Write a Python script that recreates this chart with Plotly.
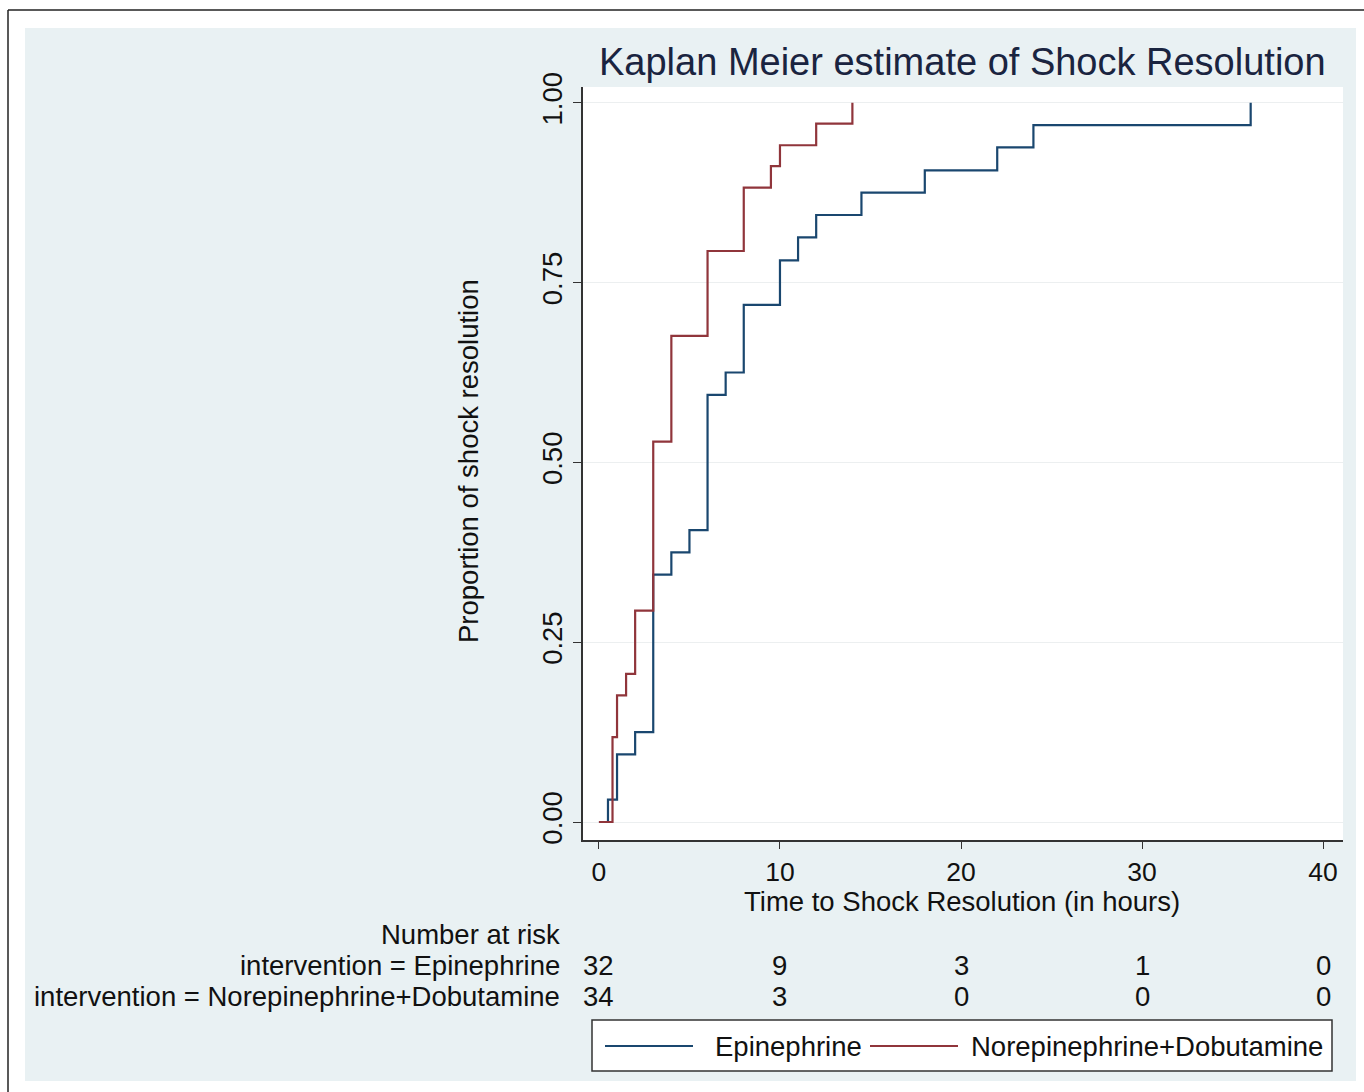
import plotly.graph_objects as go

# ---- data ----
epi_time = [0, 0.5, 1, 2, 3, 4, 5, 6, 7, 8, 10, 11, 12, 14.5, 18, 22, 24, 36]
epi_prop = [0, 0.031, 0.094, 0.125, 0.344, 0.375, 0.406, 0.594, 0.625, 0.719,
            0.781, 0.813, 0.844, 0.875, 0.906, 0.938, 0.969, 1.0]

ne_time = [0, 0.75, 1, 1.5, 2, 3, 4, 6, 8, 9.5, 10, 12, 14]
ne_prop = [0, 0.118, 0.176, 0.206, 0.294, 0.529, 0.676, 0.794, 0.882, 0.912,
           0.941, 0.971, 1.0]

risk_times = [0, 10, 20, 30, 40]
risk_epi = [32, 9, 3, 1, 0]
risk_ne = [34, 3, 0, 0, 0]

x_ticks = [0, 10, 20, 30, 40]
y_ticks = [0, 0.25, 0.5, 0.75, 1.0]

series_names = ["Epinephrine", "Norepinephrine+Dobutamine"]
row_labels = ["intervention = Epinephrine", "intervention = Norepinephrine+Dobutamine"]

# ---- style ----
W, H = 1364, 1092
PL, PR, PT, PB = 583, 1343, 87, 840   # plot area in page pixels
BLUE = "#1a476f"
RED = "#90353b"
BG = "#e9f1f3"
FONT = "Liberation Sans, Arial, sans-serif"
FS = 27.5
TFS = 26.5


def px(X):
    return (X - PL) / (PR - PL)


def py(Y):
    return (PB - Y) / (PB - PT)


fig = go.Figure()
fig.add_trace(go.Scatter(x=epi_time, y=epi_prop, mode="lines", line_shape="hv",
                         line=dict(color=BLUE, width=2.2), name=series_names[0],
                         showlegend=False))
fig.add_trace(go.Scatter(x=ne_time, y=ne_prop, mode="lines", line_shape="hv",
                         line=dict(color=RED, width=2.2), name=series_names[1],
                         showlegend=False))

shapes = [
    # graph region background
    dict(type="rect", xref="paper", yref="paper", x0=px(25), x1=px(1356),
         y0=py(1081), y1=py(28), fillcolor=BG, line=dict(width=0), layer="below"),
    # plot region
    dict(type="rect", xref="paper", yref="paper", x0=0, x1=1, y0=0, y1=1,
         fillcolor="white", line=dict(width=0), layer="below"),
    # outer frame (top & left)
    dict(type="line", xref="paper", yref="paper", x0=px(8), x1=px(1364),
         y0=py(10), y1=py(10), line=dict(color="#222", width=1.5)),
    dict(type="line", xref="paper", yref="paper", x0=px(8), x1=px(8),
         y0=py(10), y1=py(1092), line=dict(color="#222", width=1.5)),
    # legend box
    dict(type="rect", xref="paper", yref="paper", x0=px(592), x1=px(1332),
         y0=py(1071), y1=py(1020), fillcolor="white",
         line=dict(color="#333", width=1.5)),
    dict(type="line", xref="paper", yref="paper", x0=px(605), x1=px(693),
         y0=py(1046), y1=py(1046), line=dict(color=BLUE, width=2.2)),
    dict(type="line", xref="paper", yref="paper", x0=px(870), x1=px(958),
         y0=py(1046), y1=py(1046), line=dict(color=RED, width=2.2)),
]

ann = [
    dict(text="Kaplan Meier estimate of Shock Resolution", xref="paper", yref="paper",
         x=px(962), y=py(62), xanchor="center", yanchor="middle", showarrow=False,
         font=dict(size=38, color="#1a2440", family=FONT)),
    dict(text="Time to Shock Resolution (in hours)", xref="paper", yref="paper",
         x=px(962), y=py(901), xanchor="center", yanchor="middle", showarrow=False,
         font=dict(size=FS, color="#111", family=FONT)),
    dict(text="Proportion of shock resolution", xref="paper", yref="paper",
         x=px(468), y=py(461), xanchor="center", yanchor="middle", showarrow=False,
         textangle=-90, font=dict(size=FS, color="#111", family=FONT)),
    dict(text="Number at risk", xref="paper", yref="paper",
         x=px(562), y=py(935), xanchor="right", yanchor="middle", showarrow=False,
         font=dict(size=FS, color="#111", family=FONT)),
    dict(text=row_labels[0], xref="paper", yref="paper",
         x=px(562), y=py(965), xanchor="right", yanchor="middle", showarrow=False,
         font=dict(size=FS, color="#111", family=FONT)),
    dict(text=row_labels[1], xref="paper", yref="paper",
         x=px(562), y=py(996), xanchor="right", yanchor="middle", showarrow=False,
         font=dict(size=FS, color="#111", family=FONT)),
    dict(text=series_names[0], xref="paper", yref="paper",
         x=px(713), y=py(1046), xanchor="left", yanchor="middle", showarrow=False,
         font=dict(size=FS, color="#111", family=FONT)),
    dict(text=series_names[1], xref="paper", yref="paper",
         x=px(969), y=py(1046), xanchor="left", yanchor="middle", showarrow=False,
         font=dict(size=FS, color="#111", family=FONT)),
]
for t, a, b in zip(risk_times, risk_epi, risk_ne):
    ann.append(dict(text=str(a), xref="x", yref="paper", x=t, y=py(965),
                    xanchor="center", yanchor="middle", showarrow=False,
                    font=dict(size=FS, color="#111", family=FONT)))
    ann.append(dict(text=str(b), xref="x", yref="paper", x=t, y=py(996),
                    xanchor="center", yanchor="middle", showarrow=False,
                    font=dict(size=FS, color="#111", family=FONT)))

fig.update_layout(
    width=W, height=H,
    margin=dict(l=PL, r=W - PR, t=PT, b=H - PB, pad=0),
    paper_bgcolor="white", plot_bgcolor="rgba(0,0,0,0)",
    font=dict(family=FONT, size=FS, color="#111"),
    shapes=shapes, annotations=ann, showlegend=False,
    xaxis=dict(range=[-0.88, 41.1], tickvals=x_ticks, ticks="outside", ticklen=7,
               tickwidth=1.3, tickcolor="#333", showline=True, linecolor="#333",
               linewidth=1.5, showgrid=False, zeroline=False,
               tickfont=dict(size=TFS, color="#111", family=FONT)),
    yaxis=dict(range=[-0.025, 1.022], tickvals=y_ticks, tickformat=".2f",
               ticks="outside", ticklen=8, tickwidth=1.3, tickcolor="#333",
               showline=True, linecolor="#333", linewidth=1.5,
               showgrid=True, gridcolor="#eceff0", gridwidth=1.3, zeroline=False,
               tickangle=-90,
               tickfont=dict(size=FS, color="#111", family=FONT)),
)

fig.write_html("out.html", config={"displayModeBar": False},
               post_script="document.body.style.margin='0';document.body.style.overflow='hidden';")
